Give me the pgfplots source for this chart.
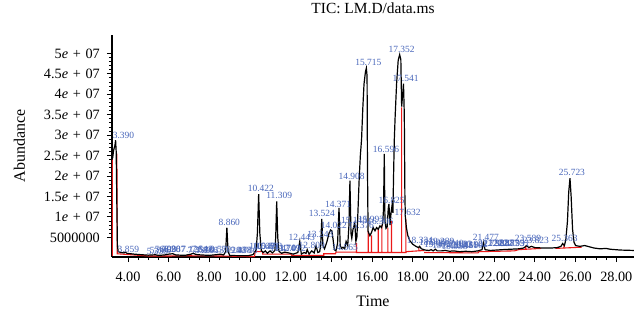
\documentclass[border=0pt]{standalone}
\usepackage{fontspec}
\setmainfont{Liberation Serif}
\usepackage{pgfplots}
\usepackage{pgfplotstable}
\pgfplotsset{compat=1.18}
\definecolor{lblue}{RGB}{72,102,186}
\definecolor{pred}{RGB}{235,25,25}

\pgfplotstableread{
t v
3.214 2.43e7
3.25 2.45e7
3.29 2.62e7
3.33 2.70e7
3.36 2.75e7
3.39 2.88e7
3.42 2.60e7
3.45 1.40e7
3.48 3.0e6
3.52 1.5e6
3.65 1.3e6
3.80 1.2e6
3.86 1.4e6
3.95 1.1e6
4.3 0.9e6
4.7 0.75e6
5.0 0.65e6
5.35 0.75e6
5.5 0.6e6
5.8 0.7e6
6.0 0.9e6
6.2 1.0e6
6.35 0.7e6
6.8 0.6e6
7.1 0.9e6
7.2 1.1e6
7.35 0.8e6
7.6 0.7e6
8.0 0.6e6
8.4 0.8e6
8.55 0.9e6
8.7 0.7e6
8.80 1.5e6
8.86 7.4e6
8.92 1.5e6
9.0 0.6e6
9.5 0.5e6
9.9 0.5e6
10.15 0.8e6
10.30 2.0e6
10.36 6.0e6
10.422 1.56e7
10.48 6.0e6
10.55 1.8e6
10.65 1.3e6
10.75 1.7e6
10.85 1.1e6
10.98 1.7e6
11.1 1.2e6
11.22 1.8e6
11.26 5.0e6
11.309 1.38e7
11.36 5.0e6
11.42 1.6e6
11.55 1.1e6
11.7 1.4e6
11.9 1.2e6
12.12 0.9e6
12.35 1.3e6
12.443 4.0e6
12.52 0.9e6
12.65 1.3e6
12.75 1.1e6
12.81 2.0e6
12.9 0.9e6
13.03 1.7e6
13.15 1.2e6
13.243 2.9e6
13.33 1.3e6
13.42 1.5e6
13.47 3.0e6
13.524 9.5e6
13.58 3.0e6
13.66 2.2e6
13.78 4.0e6
13.88 6.0e6
13.96 6.8e6
14.022 6.6e6
14.08 4.5e6
14.14 2.0e6
14.22 1.7e6
14.30 3.5e6
14.371 1.22e7
14.43 3.0e6
14.50 2.3e6
14.565 2.6e6
14.65 2.2e6
14.72 4.0e6
14.80 3.0e6
14.86 8.0e6
14.908 1.89e7
14.96 6.0e6
15.00 4.8e6
15.06 7.0e6
15.148 8.5e6
15.20 4.0e6
15.25 5.0e6
15.30 1.1e7
15.36 1.9e7
15.42 2.5e7
15.48 2.9e7
15.54 3.65e7
15.60 4.25e7
15.67 4.55e7
15.715 4.64e7
15.75 4.45e7
15.77 2.2e7
15.80 6.5e6
15.89 5.4e6
15.97 6.2e6
16.05 7.4e6
16.14 6.6e6
16.22 7.4e6
16.30 7.0e6
16.38 7.8e6
16.46 7.4e6
16.52 8.5e6
16.56 1.2e7
16.596 2.54e7
16.63 9.0e6
16.68 7.2e6
16.74 7.6e6
16.79 1.2e7
16.825 1.32e7
16.88 8.0e6
16.93 1.1e7
16.98 1.29e7
17.02 1.1e7
17.06 2.2e7
17.09 2.9e7
17.13 3.45e7
17.20 4.25e7
17.28 4.83e7
17.352 4.97e7
17.41 4.85e7
17.45 3.7e7
17.50 4.0e7
17.541 4.26e7
17.58 3.5e7
17.61 1.5e7
17.632 1.0e7
17.68 7.5e6
17.75 5.5e6
17.85 4.2e6
18.0 3.3e6
18.15 2.8e6
18.28 2.5e6
18.334 2.8e6
18.42 2.2e6
18.6 1.9e6
18.8 1.8e6
18.9 2.0e6
19.0 1.7e6
19.1 2.1e6
19.2 1.7e6
19.4 1.7e6
19.6 1.8e6
19.8 1.6e6
20.0 1.7e6
20.3 1.5e6
20.6 1.6e6
20.9 1.5e6
21.2 1.7e6
21.40 2.0e6
21.477 3.7e6
21.55 2.0e6
21.8 1.8e6
22.1 1.9e6
22.4 2.0e6
22.8 2.1e6
23.2 2.2e6
23.45 2.4e6
23.589 3.0e6
23.70 2.5e6
23.823 2.8e6
24.0 2.5e6
24.4 2.4e6
24.8 2.4e6
25.1 2.5e6
25.28 2.8e6
25.363 3.5e6
25.45 3.0e6
25.52 4.5e6
25.60 9.0e6
25.66 1.6e7
25.723 1.95e7
25.78 1.5e7
25.85 7.0e6
25.92 3.8e6
26.0 3.0e6
26.2 2.8e6
26.45 3.0e6
26.6 2.8e6
26.9 2.4e6
27.2 2.2e6
27.5 2.3e6
27.7 2.1e6
28.2 1.9e6
28.87 1.8e6
}\tic

\pgfplotstableread{
t v
3.235 0.5e6
3.235 2.40e7
nan nan
3.455 2.55e7
3.47 1.0e6
4.0 0.8e6
5.0 0.45e6
6.0 0.45e6
7.0 0.5e6
8.5 0.45e6
10.22 0.3e6
10.25 1.5e6
10.62 1.5e6
10.62 0.9e6
12.0 0.9e6
12.05 0.6e6
13.62 0.6e6
13.62 1.0e6
14.2 1.0e6
14.22 1.4e6
15.23 1.4e6
15.23 3.6e6
15.23 1.3e6
17.70 1.3e6
nan nan
15.81 1.3e6
15.81 6.6e6
nan nan
15.97 1.3e6
15.97 5.5e6
nan nan
16.30 1.3e6
16.30 7.0e6
nan nan
16.48 1.3e6
16.48 8.0e6
nan nan
16.77 1.3e6
16.77 7.4e6
nan nan
16.95 1.3e6
16.95 9.0e6
nan nan
17.45 1.3e6
17.45 3.68e7
nan nan
17.66 1.3e6
17.66 9.5e6
nan nan
17.66 1.5e6
18.55 1.8e6
nan nan
18.30 1.7e6
18.30 2.6e6
nan nan
18.55 1.3e6
21.2 1.2e6
21.25 1.5e6
23.0 1.7e6
23.2 2.0e6
24.3 2.3e6
nan nan
23.55 2.2e6
23.55 2.9e6
nan nan
25.0 2.3e6
26.3 2.6e6
nan nan
25.42 2.4e6
25.42 3.1e6
}\base

\pgfplotstableread{
t v label
3.78 29.1e6 3.390
4.02 1.1e6 3.859
5.45 0.6e6 5.339
5.60 0.9e6 5.506
5.85 1.1e6 5.798
6.08 1.1e6 6.098
6.30 1.2e6 6.207
7.15 1.1e6 7.126
7.45 1.0e6 7.358
7.65 1.1e6 7.548
7.90 1.0e6 7.766
8.20 1.0e6 8.013
8.55 1.2e6 8.579
8.98 7.8e6 8.860
9.25 0.9e6 9.240
9.55 0.8e6 9.488
9.85 0.9e6 9.766
10.53 16.0e6 10.422
10.60 1.9e6 10.547
10.78 1.8e6 10.669
10.95 1.9e6 10.893
11.43 14.4e6 11.309
11.60 1.3e6 11.474
11.85 1.3e6 11.709
12.10 1.3e6 12.012
12.54 4.2e6 12.443
13.03 2.1e6 12.809
13.45 4.8e6 13.243
13.53 9.9e6 13.524
14.12 7.0e6 14.022
14.33 12.2e6 14.371
14.66 1.7e6 14.565
14.99 19.1e6 14.908
15.11 8.3e6 15.148
15.45 7.0e6 15.376
15.95 8.6e6 15.993
16.40 8.0e6 16.306
16.68 25.6e6 16.596
16.96 13.2e6 16.825
15.81 46.8e6 15.715
17.45 50.0e6 17.352
17.64 43.0e6 17.541
17.74 10.3e6 17.632
18.35 3.4e6 18.334
18.95 2.8e6 18.906
19.20 2.3e6 19.083
19.40 3.0e6 19.289
19.60 2.2e6 19.512
19.85 2.7e6 19.740
20.05 2.0e6 19.958
20.30 2.3e6 20.183
20.55 2.1e6 20.421
20.80 2.2e6 20.660
21.05 2.3e6 20.902
21.59 4.2e6 21.477
21.85 2.5e6 21.738
22.10 2.5e6 21.988
22.35 2.5e6 22.237
22.60 2.5e6 22.487
22.85 2.5e6 22.733
23.10 2.6e6 22.991
23.66 3.75e6 23.589
24.05 3.4e6 23.823
25.46 3.95e6 25.363
25.82 19.9e6 25.723
}\labels

\newcommand\sci[1]{#1\textit{e}\hspace{0.33em}+\hspace{0.33em}07}

\begin{document}
\begin{tikzpicture}[x=1bp,y=1bp]
\begin{axis}[
  at={(0,0)}, anchor=south west,
  scale only axis, width=522bp, height=222bp,
  xmin=3.214, xmax=28.87, ymin=2e5, ymax=5.45e7,
  axis x line*=bottom, axis y line*=left,
  axis line style={line width=1.1bp, black},
  tick align=outside,
  tick style={line width=0.9bp, black},
  major tick length=5bp, minor tick length=3bp,
  /pgf/number format/assume math mode=true,
  xtick={4,6,...,28},
  xticklabel={\pgfmathprintnumber[fixed,fixed zerofill,precision=2]{\tick}},
  minor x tick num=3,
  scaled x ticks=false, scaled y ticks=false,
  ytick={5e6,1e7,1.5e7,2e7,2.5e7,3e7,3.5e7,4e7,4.5e7,5e7},
  yticklabels={5000000,\sci{1},\sci{1.5},\sci{2},\sci{2.5},\sci{3},\sci{3.5},\sci{4},\sci{4.5},\sci{5}},
  minor y tick num=4,
  tick label style={font=\fontsize{14.3}{16}\selectfont},
  xticklabel style={anchor=base, inner sep=0pt, yshift=-19bp},
  yticklabel style={anchor=east, inner sep=0pt, xshift=-7bp},
  title={TIC: LM.D/data.ms},
  title style={at={(0.5,1)}, anchor=base, yshift=15.5bp, font=\fontsize{15.5}{17}\selectfont},
  xlabel={Time},
  xlabel style={at={(axis description cs:0.5,0)}, anchor=base, inner sep=0pt, yshift=-49.5bp, font=\fontsize{16}{18}\selectfont},
  ylabel={Abundance},
  ylabel style={at={(axis description cs:-0.1667,0.5)}, anchor=base, inner sep=0pt, rotate=0, font=\fontsize{16}{18}\selectfont},
  clip=true,
]
\addplot[pred, line width=1.1bp, mark=none, unbounded coords=jump] table[x=t,y=v] {\base};
\addplot[black, line width=1.2bp, mark=none] table[x=t,y=v] {\tic};
\addplot[draw=none, mark=none, nodes near coords, point meta=explicit symbolic,
  nodes near coords style={font=\fontsize{9.5}{10}\selectfont, text=lblue, anchor=south, inner sep=0.3bp}]
  table[x=t,y=v,meta=label] {\labels};
\end{axis}
\pgfresetboundingbox
\useasboundingbox (-112,-52) rectangle (522,257);
\end{tikzpicture}
\end{document}
